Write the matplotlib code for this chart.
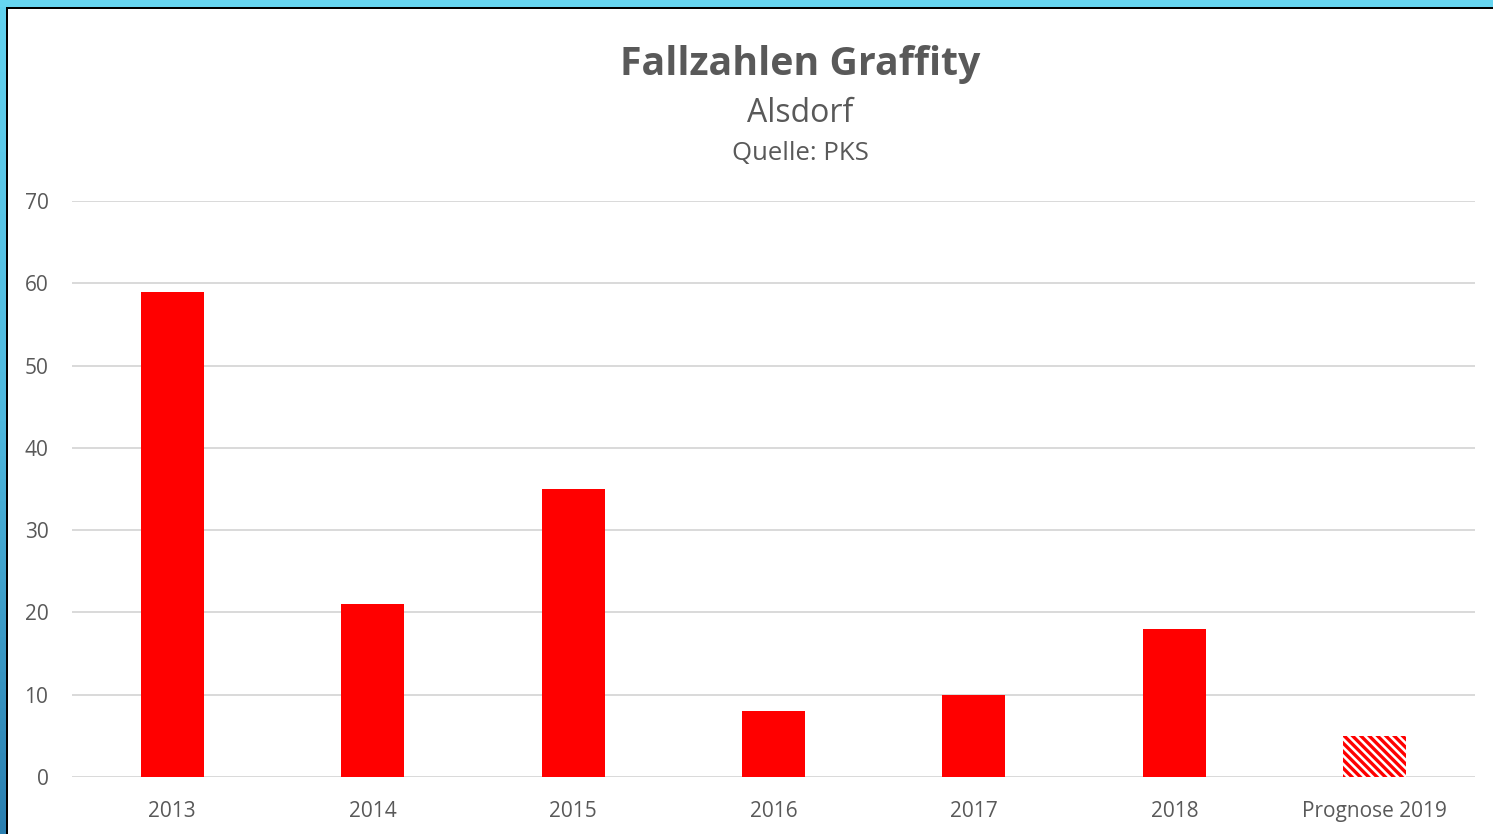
import matplotlib
matplotlib.use("Agg")
import matplotlib.pyplot as plt
import numpy as np
from matplotlib.patches import Rectangle
from matplotlib.colors import LinearSegmentedColormap

categories = ["2013", "2014", "2015", "2016", "2017", "2018", "Prognose 2019"]
values = [59, 21, 35, 8, 10, 18, 5]
forecast = [False, False, False, False, False, False, True]
yticks = [0, 10, 20, 30, 40, 50, 60, 70]

plt.rcParams['font.family'] = ['Open Sans', 'DejaVu Sans']
plt.rcParams['hatch.linewidth'] = 2.4
plt.rcParams['hatch.color'] = '#FF0000'

W, H = 1493, 834
fig = plt.figure(figsize=(W / 100, H / 100), dpi=100)
fig.patch.set_facecolor('white')

# frame decorations: top light-blue strip, left gradient strip, black inner lines
top = Rectangle((0, 1 - 7 / H), 1, 7 / H, transform=fig.transFigure,
                facecolor='#66D5F0', edgecolor='none', zorder=0)
fig.patches.append(top)
grad_ax = fig.add_axes([0, 0, 6 / W, 1 - 7 / H])
grad = np.linspace(0, 1, 256).reshape(-1, 1)
cmap = LinearSegmentedColormap.from_list('b', ['#2A7FB0', '#4EB8DE', '#62D2EF'])
grad_ax.imshow(grad, aspect='auto', cmap=cmap, origin='lower', extent=[0, 1, 0, 1])
grad_ax.axis('off')
fig.patches.append(Rectangle((6 / W, 0), 2 / W, 1 - 7 / H, transform=fig.transFigure,
                             facecolor='black', edgecolor='none'))
fig.patches.append(Rectangle((6 / W, 1 - 9 / H), 1 - 6 / W, 2 / H, transform=fig.transFigure,
                             facecolor='black', edgecolor='none'))

ax = fig.add_axes([72 / W, 1 - 777 / H, (1475 - 72) / W, (777 - 201) / H])
x = np.arange(len(categories))
for xi, v, f in zip(x, values, forecast):
    if f:
        ax.bar(xi, v, width=0.315, facecolor='white', edgecolor='#FF0000',
               hatch='\\\\\\\\', linewidth=0, zorder=3)
    else:
        ax.bar(xi, v, width=0.315, color='#FF0000', zorder=3)

ax.set_xlim(-0.5, len(categories) - 0.5)
ax.set_ylim(0, 70)
ax.set_yticks(yticks)
ax.set_xticks(x)
ax.set_xticklabels(categories)
ax.tick_params(axis='both', length=0, labelsize=15, colors='#595959')
ax.tick_params(axis='x', pad=17)
ax.tick_params(axis='y', pad=17)
ax.yaxis.grid(True, color='#D9D9D9', linewidth=1.4, zorder=0)
ax.set_axisbelow(True)
for s in ax.spines.values():
    s.set_visible(False)
ax.set_facecolor('none')

fig.text(800 / W, 1 - 64 / H, "Fallzahlen Graffity", ha='center', va='center',
         fontsize=28.3, fontweight='bold', color='#595959')
fig.text(800 / W, 1 - 113 / H, "Alsdorf", ha='center', va='center',
         fontsize=23, color='#595959')
fig.text(800 / W, 1 - 153 / H, "Quelle: PKS", ha='center', va='center',
         fontsize=18.5, color='#595959')

fig.savefig("out.png", dpi=100, facecolor='white')
